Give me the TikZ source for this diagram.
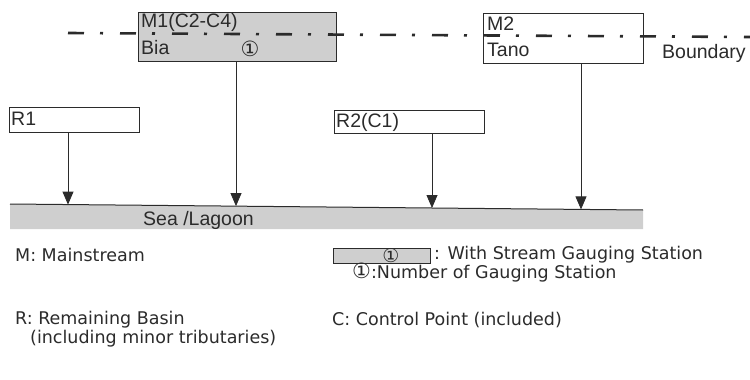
\documentclass[tikz,border=0pt]{standalone}
\usepackage{fontspec}
\setmainfont{Liberation Sans}
\newfontfamily\legfont{DejaVu Sans}
\newfontfamily\circfont{DejaVu Sans}
\usetikzlibrary{arrows.meta}
\definecolor{ink}{HTML}{2B2B2B}
\definecolor{bandgray}{HTML}{CFCFCF}
\newcommand{\cone}[1]{{\circfont\fontsize{#1}{#1}\selectfont ①}}
\tikzset{
  x=1pt, y=-1pt,
  boxst/.style={draw=ink, line width=1pt, inner sep=0pt},
  graybox/.style={boxst, fill=bandgray},
  boxtxt/.style={anchor=west, inner sep=0pt, text=ink, font=\fontsize{19.5}{19.5}\selectfont},
  legtxt/.style={anchor=west, inner sep=0pt, text=ink, font=\legfont\fontsize{17.5}{17.5}\selectfont},
  circtxt/.style={text=ink, inner sep=0pt},
  flow/.style={draw=ink, line width=0.8pt, -{Triangle[width=11pt,length=13pt]}},
  bound/.style={draw=ink, line width=2.6pt, dash pattern=on 16pt off 16pt on 3pt off 17pt},
}
\begin{document}
\begin{tikzpicture}
\useasboundingbox (0,0) rectangle (750,380);
% sea band
\coordinate (seaL) at (10,204);
\coordinate (seaR) at (643,210);
\fill[bandgray] (seaL) -- (seaR) -- (643,229) -- (10,229) -- cycle;
\draw[ink, line width=1pt] (seaL) -- (seaR);
\node[boxtxt] (sea) at (143,220) {Sea /Lagoon};
% boxes
\node[graybox, minimum width=198pt, minimum height=49pt] (M1) at (237,36.5) {};
\node[boxst, minimum width=160pt, minimum height=50pt] (M2) at (563,38.5) {};
\node[boxst, minimum width=130pt, minimum height=25pt] (R1) at (74,119.5) {};
\node[boxst, minimum width=150pt, minimum height=23pt] (R2) at (409,122) {};
% texts in boxes
\node[boxtxt] (m1a) at (141,22) {M1(C2-C4)};
\node[boxtxt] (m1b) at (141,48) {Bia};
\node[circtxt] (m1c) at (250,48.5) {\cone{21}};
\node[boxtxt] (m2a) at (487,24) {M2};
\node[boxtxt] (m2b) at (487,50) {Tano};
\node[boxtxt] (r1t) at (11,119) {R1};
\node[boxtxt] (r2t) at (336,122) {R2(C1)};
% boundary
\coordinate (bL) at (68,33);
\coordinate (bR) at (752,37);
\draw[bound] (bL) -- (bR);
\node[boxtxt] (bnd) at (662,53) {Boundary};
% flow arrows
\coordinate (s1) at (68,204.6);
\coordinate (s2) at (236,206.1);
\coordinate (s3) at (432,208);
\coordinate (s4) at (581,209.4);
\draw[flow] (R1.south -| s1) -- (s1);
\draw[flow] (M1.south -| s2) -- (s2);
\draw[flow] (R2.south -| s3) -- (s3);
\draw[flow] (M2.south -| s4) -- (s4);
% legend
\node[legtxt] (lm) at (15,255) {M: Mainstream};
\node[graybox, minimum width=97pt, minimum height=15pt] (lbox) at (381.5,255.5) {};
\node[circtxt] (lcirc) at (391,255.5) {\cone{19}};
\node[legtxt] (lws) at (434,255) {: With Stream Gauging Station};
\node[legtxt] (lnum) at (352,273) {\cone{21}:Number of Gauging Station};
\node[legtxt] (lr) at (15,320) {R: Remaining Basin};
\node[legtxt] (lr2) at (30,339) {(including minor tributaries)};
\node[legtxt] (lc) at (332,320) {C: Control Point (included)};
\end{tikzpicture}
\end{document}
